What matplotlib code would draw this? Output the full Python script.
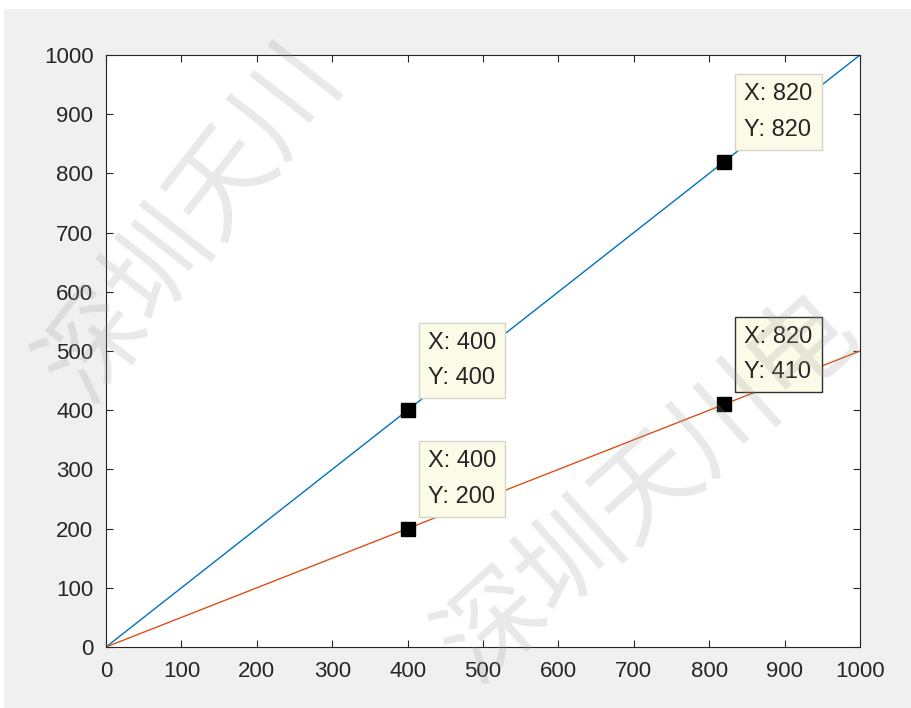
import numpy as np
import matplotlib
matplotlib.use("Agg")
import matplotlib.pyplot as plt
from matplotlib.patches import Rectangle

plt.rcParams['font.family'] = ['Liberation Sans', 'Noto Sans CJK SC', 'DejaVu Sans']

# === Data ===
x_vals = [0, 1000]
line1_y = [0, 1000]
line2_y = [0, 500]
tips_x = [400, 820, 400, 820]
tips_y = [400, 820, 200, 410]
tip_selected = [False, False, False, True]
x_ticks = [0, 100, 200, 300, 400, 500, 600, 700, 800, 900, 1000]
y_ticks = [0, 100, 200, 300, 400, 500, 600, 700, 800, 900, 1000]
watermarks = ["深圳天川", "深圳天川电"]

# === Figure ===
fig = plt.figure(figsize=(9.12, 7.08), dpi=100, facecolor="white")
# grey window background with thin white margin at top/left
fig.patches.append(Rectangle((4/912, 0), 1, (708-9)/708, transform=fig.transFigure,
                             facecolor="#f0f0f0", edgecolor="none", zorder=-10))

ax = fig.add_axes([106/912, 61/708, 754/912, 592/708])

ax.plot(x_vals, line1_y, color="#0072BD", lw=1.0)
ax.plot(x_vals, line2_y, color="#D95319", lw=1.0)

ax.set_xlim(0, 1000)
ax.set_ylim(0, 1000)
ax.set_xticks(x_ticks)
ax.set_yticks(y_ticks)
ax.tick_params(direction="in", top=True, right=True, length=5, width=0.8,
               labelsize=16, colors="#262626")
ax.tick_params(axis="x", pad=10)
ax.tick_params(axis="y", pad=9)
for s in ax.spines.values():
    s.set_color("#262626")
    s.set_linewidth(0.8)

# === Data tips ===
for tx, ty, sel in zip(tips_x, tips_y, tip_selected):
    ax.plot(tx, ty, marker="s", ms=10.5, color="black", zorder=5)
    ax.annotate(f"X: {tx}\nY: {ty}", xy=(tx, ty), xytext=(20, 21),
                textcoords="offset pixels", ha="left", va="bottom",
                fontsize=17, color="#262626", linespacing=1.8, zorder=6,
                bbox=dict(boxstyle="square,pad=0.38", fc="#fbfbe8",
                          ec="#303030" if sel else "#d4d4c8", lw=1.0))

# === Watermark ===
fig.text(22/912, (708-420)/708, watermarks[0], fontsize=75, color="#9a9a9a", alpha=0.22,
         rotation=52, family=["Noto Sans CJK SC"], ha="left", va="bottom", zorder=20)
fig.text(420/912, 6/708, watermarks[1], fontsize=75, color="#9a9a9a", alpha=0.22,
         rotation=42, family=["Noto Sans CJK SC"], ha="left", va="bottom", zorder=20)

fig.savefig("out.png", dpi=100, facecolor=fig.get_facecolor())
